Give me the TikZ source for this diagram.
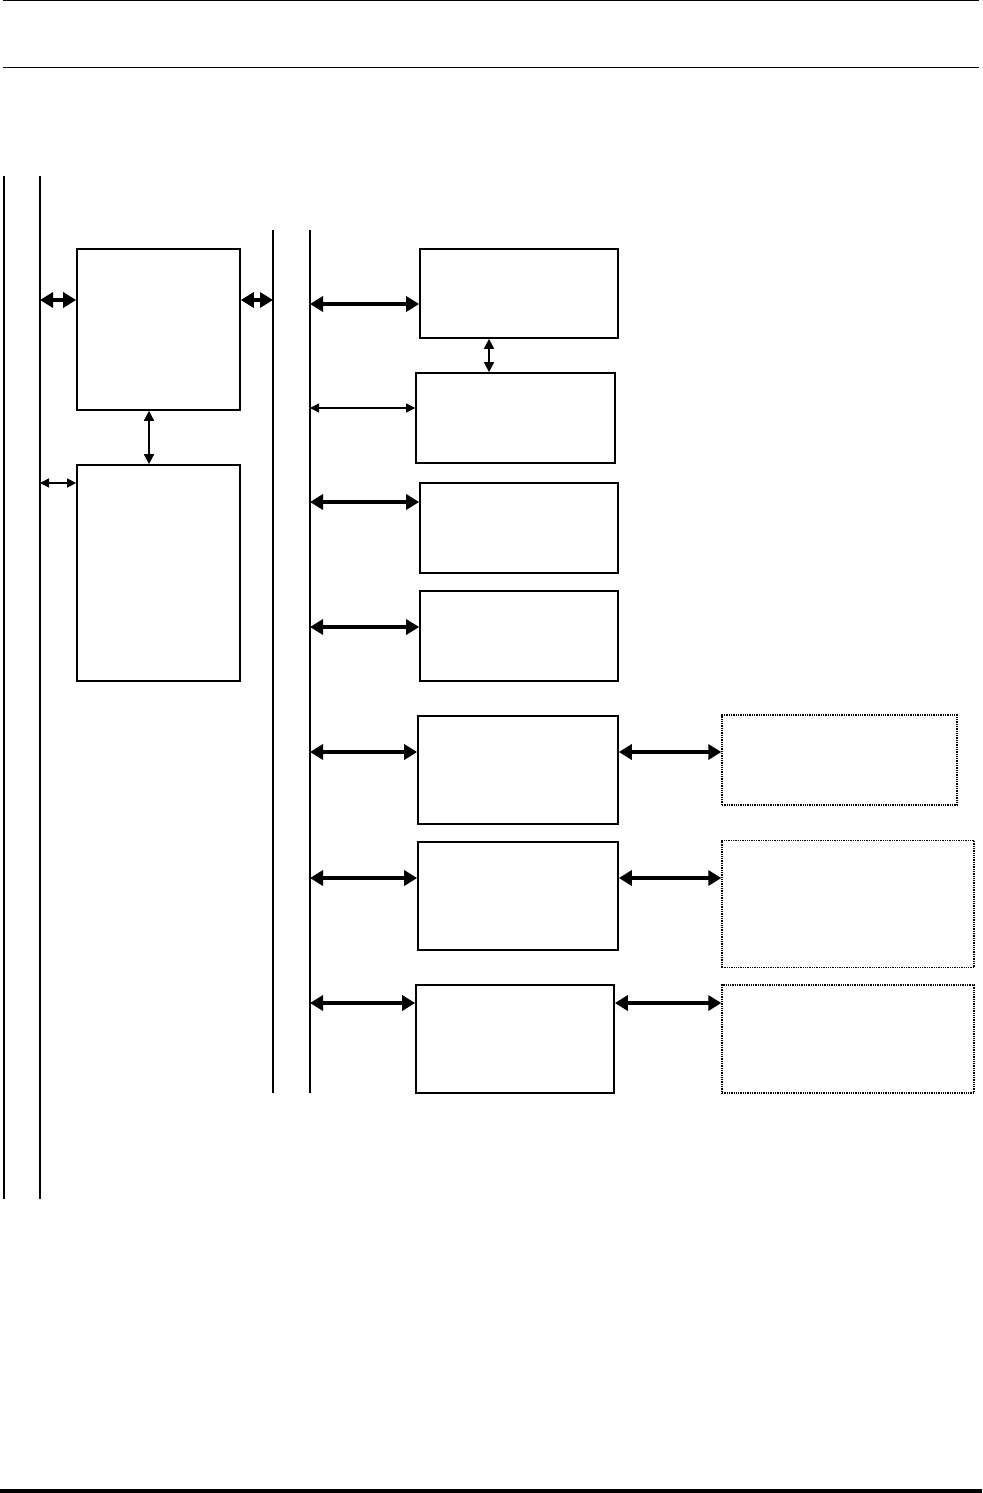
\documentclass[tikz,border=0pt]{standalone}
\usetikzlibrary{arrows.meta}
\begin{document}
\begin{tikzpicture}[x=1pt,y=-1pt,
    blk/.style={draw,line width=1.7pt,inner sep=0pt},
    ghost/.style={draw,line width=1.3pt,densely dotted,inner sep=0pt},
    bus/.style={line width=1.6pt},
    fat/.style={line width=4pt,{Triangle[length=13pt,width=15pt]}-{Triangle[length=13pt,width=15pt]}},
    slim/.style={line width=1.4pt,{Triangle[length=9pt,width=9pt]}-{Triangle[length=9pt,width=9pt]}},
    mid/.style={line width=1.6pt,{Triangle[length=10pt,width=10pt]}-{Triangle[length=10pt,width=10pt]}}]

\useasboundingbox (0,0) rectangle (982,1493);

   \draw[line width=1pt] (3,1) -- (979,1);
   \draw[line width=1pt] (3,68) -- (979,68);
   \draw[line width=3.5pt] (0,1491) -- (982,1491);

   \coordinate (L1top) at (4,176);   \coordinate (L1bot) at (4,1199);
   \coordinate (L2top) at (40,176);  \coordinate (L2bot) at (40,1199);
   \coordinate (M1top) at (273,230); \coordinate (M1bot) at (273,1093);
   \coordinate (M2top) at (310,230); \coordinate (M2bot) at (310,1093);

   \draw[bus] (L1top) -- (L1bot);
   \draw[bus] (L2top) -- (L2bot);
   \draw[bus] (M1top) -- (M1bot);
   \draw[bus] (M2top) -- (M2bot);

   \node[blk,minimum width=163pt,minimum height=161pt] at (158.5,329.5) (A) {};
   \node[blk,minimum width=163pt,minimum height=216pt] at (158.5,573) (B) {};

   \node[blk,minimum width=198pt,minimum height=89pt] at (519,293.5) (B1) {};
   \node[blk,minimum width=199pt,minimum height=90pt] at (515.5,418) (B2) {};
   \node[blk,minimum width=198pt,minimum height=90pt] at (519,528) (B3) {};
   \node[blk,minimum width=198pt,minimum height=90pt] at (519,636) (B4) {};
   \node[blk,minimum width=200pt,minimum height=108pt] at (518,770) (B5) {};
   \node[blk,minimum width=200pt,minimum height=108pt] at (518,896) (B6) {};
   \node[blk,minimum width=198pt,minimum height=108pt] at (515,1039) (B7) {};

   \node[ghost,minimum width=235pt,minimum height=90pt] at (839.5,760) (D1) {};
   \node[ghost,minimum width=252pt,minimum height=127pt] at (848,904) (D2) {};
   \node[ghost,minimum width=252pt,minimum height=108pt] at (848,1039) (D3) {};

   \coordinate (rA) at (0,300);
   \coordinate (rB) at (0,483);
   \coordinate (r1) at (0,304);
   \coordinate (r2) at (0,408);
   \coordinate (r3) at (0,502);
   \coordinate (r4) at (0,627);
   \coordinate (r5) at (0,752);
   \coordinate (r6) at (0,878);
   \coordinate (r7) at (0,1003);

   \draw[fat] (rA -| L2top) -- (rA -| A.west);
   \draw[fat] (rA -| A.east) -- (rA -| M1top);
   \draw[slim] (rB -| L2top) -- (rB -| B.west);
   \draw[mid] (A.south -| 149,0) -- (B.north -| 149,0);

   \draw[fat] (r1 -| M2top) -- (r1 -| B1.west);
   \draw[slim] (r2 -| M2top) -- (r2 -| B2.west);
   \draw[fat] (r3 -| M2top) -- (r3 -| B3.west);
   \draw[fat] (r4 -| M2top) -- (r4 -| B4.west);
   \draw[fat] (r5 -| M2top) -- (r5 -| B5.west);
   \draw[fat] (r6 -| M2top) -- (r6 -| B6.west);
   \draw[fat] (r7 -| M2top) -- (r7 -| B7.west);
   \draw[mid] (B1.south -| 489,0) -- (B2.north -| 489,0);

   \draw[fat] (r5 -| B5.east) -- (r5 -| D1.west);
   \draw[fat] (r6 -| B6.east) -- (r6 -| D2.west);
   \draw[fat] (r7 -| B7.east) -- (r7 -| D3.west);

\end{tikzpicture}
\end{document}
